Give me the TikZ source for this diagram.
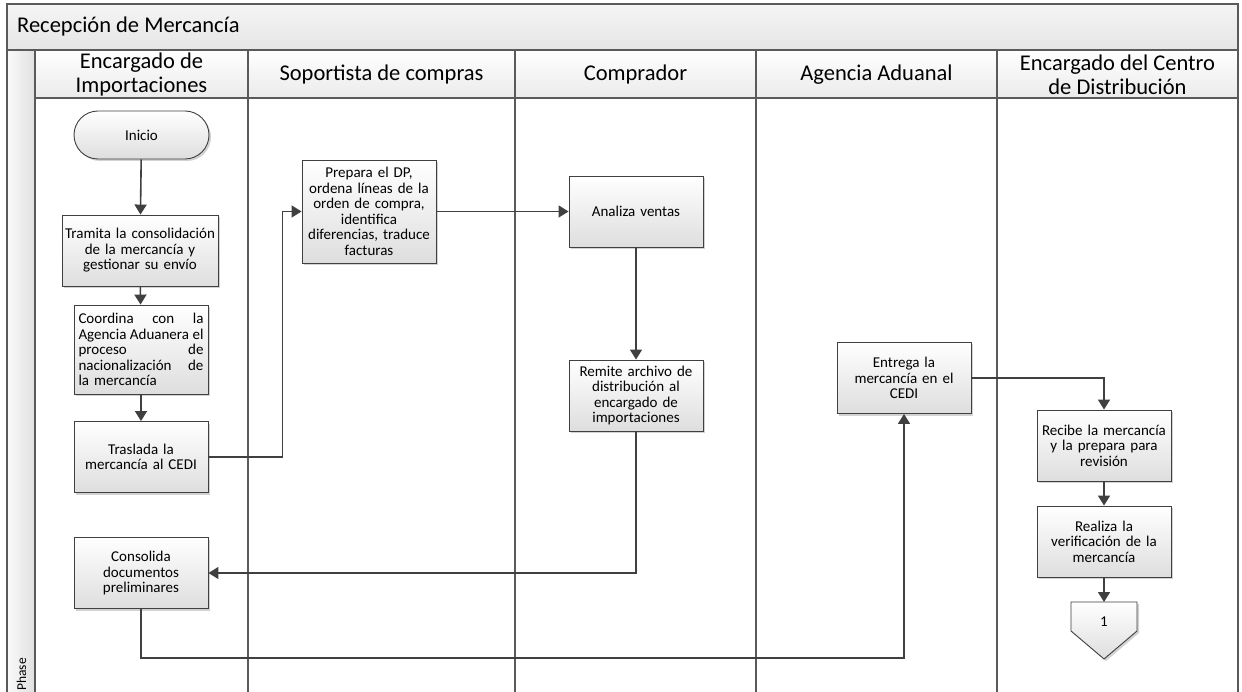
\documentclass[tikz,border=0pt]{standalone}
\usepackage{fontspec}
\setmainfont{Carlito}
\usetikzlibrary{arrows.meta,shadows}
\definecolor{edge}{HTML}{404040}
\definecolor{frame}{HTML}{5A5A5A}

\begin{document}
\begin{tikzpicture}[x=1pt,y=-1pt,
  box/.style={draw=edge, line width=0.9pt,
    drop shadow={shadow xshift=2pt,shadow yshift=-2pt,opacity=0.35},
    top color=white, bottom color=black!13,
    align=center, inner sep=2pt, minimum width=134pt, minimum height=71pt,
    text width=130pt, font=\fontsize{15}{15.5}\selectfont},
  arr/.style={draw=edge, line width=1.6pt, -{Triangle[length=10pt,width=12pt]}},
  lane/.style={draw=frame, line width=1.3pt},
  hdr/.style={font=\fontsize{22.5}{24}\selectfont, align=center, inner sep=0pt},
]
\useasboundingbox (0,0) rectangle (1242,692);
\fill[white] (0,0) rectangle (1242,692);

% pool title band, lane header band and phase column
\path[top color=black!4, bottom color=black!10] (7,4) rectangle (1238,50);
\path[top color=white, bottom color=black!8] (35,50) rectangle (1238,98);
\path[left color=black!2, right color=black!12] (7,50) rectangle (35,692);

% frame and lane separators
\draw[lane] (7,692) -- (7,4) -- (1238,4) -- (1238,692);
\draw[lane] (7,50) -- (1238,50);
\draw[lane] (35,98) -- (1238,98);
\foreach \x in {35,248,515,756,997} \draw[lane] (\x,50) -- (\x,692);

% titles
\node[anchor=base west, inner sep=0pt, font=\fontsize{22.5}{24}\selectfont] (pool) at (17,33) {Recepción de Mercancía};
\node[hdr] (h1) at (141.5,74.5) {Encargado de\\Importaciones};
\node[hdr] (h2) at (381.5,74.5) {Soportista de compras};
\node[hdr] (h3) at (635.5,74.5) {Comprador};
\node[hdr] (h4) at (876.5,74.5) {Agencia Aduanal};
\node[hdr] (h5) at (1117.5,74.5) {Encargado del Centro\\de Distribución};
\node[rotate=90, anchor=west, inner sep=0pt, font=\fontsize{13.5}{15}\selectfont] (phase) at (21.5,691) {Phase};

% process steps
\node[box, rounded corners=24pt, minimum width=135pt, minimum height=48pt] (ini) at (141.5,135) {Inicio};
\node[box, minimum width=156pt, text width=152pt] (tram) at (140,250.5) {Tramita la consolidación\\de la mercancía y\\gestionar su envío};
\node[box, minimum height=89pt, text width=125pt, align=left] (coord) at (141,349.5)
  {Coordina\hfill con\hfill la\\Agencia\hfill Aduanera\hfill el\\proceso\hfill de\\nacionalización\hfill de\\la mercancía};
\node[box] (tras) at (141,457) {Traslada la\\mercancía al CEDI};
\node[box] (cons) at (141,573) {Consolida\\documentos\\preliminares};
\node[box, minimum height=103pt] (prep) at (369,211.5) {Prepara el DP,\\ordena líneas de la\\orden de compra,\\identifica\\diferencias, traduce\\facturas};
\node[box] (anal) at (636,211.5) {Analiza ventas};
\node[box] (rem) at (636,395.5) {Remite archivo de\\distribución al\\encargado de\\importaciones};
\node[box] (ent) at (904,378) {Entrega la\\mercancía en el\\CEDI};
\node[box] (rec) at (1104,445.5) {Recibe la mercancía\\y la prepara para\\revisión};
\node[box] (real) at (1104,541.5) {Realiza la\\verificación de la\\mercancía};

% off-page reference
\path[draw=edge, line width=0.9pt,
  drop shadow={shadow xshift=2pt,shadow yshift=-2pt,opacity=0.35},
  top color=white, bottom color=black!13]
  (1071,602) -- (1137,602) -- (1137,631) -- (1104,659) -- (1071,631) -- cycle;
\coordinate (offtop) at (1104,602);
\node[font=\fontsize{15}{15.5}\selectfont] (off) at (1104,622) {1};

% connectors
\draw[arr] (ini) -- (tram);
\draw[arr] (tram) -- (coord);
\draw[arr] (coord) -- (tras);
\draw[arr] (tras.east) -- ++(74,0) |- (prep.west);
\draw[arr] (prep) -- (anal);
\draw[arr] (anal) -- (rem);
\draw[arr] (rem.south) |- (cons.east);
\draw[arr] (cons.south) -- ++(0,49) -| (ent.south);
\draw[arr] (ent.east) -| (rec.north);
\draw[arr] (rec) -- (real);
\draw[arr] (real.south) -- (offtop);
\end{tikzpicture}
\end{document}
